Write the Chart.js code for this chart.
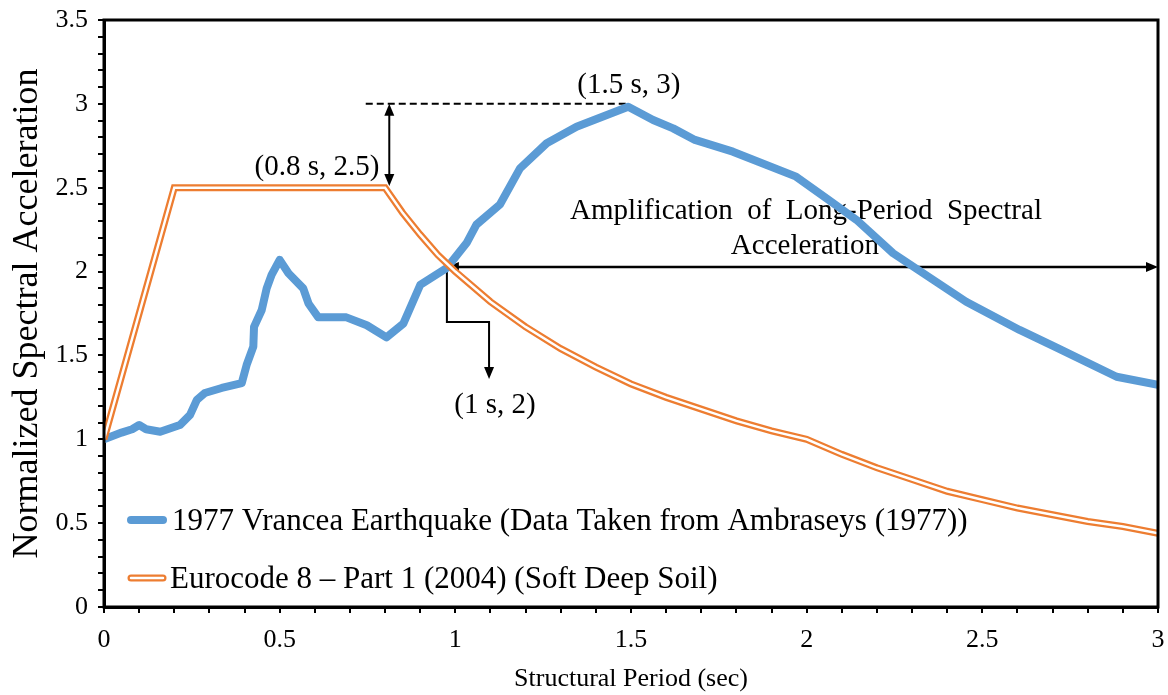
<!DOCTYPE html>
<html>
<head>
<meta charset="utf-8">
<script src="https://cdn.jsdelivr.net/npm/chart.js@4.4.1/dist/chart.umd.min.js"></script>
<style>
  html, body { margin: 0; padding: 0; background: #fff; }
</style>
</head>
<body>
<canvas id="spectrum" width="1168" height="695"></canvas>
<script>
const SERIF = '"Liberation Serif", "Times New Roman", serif';

const seriesNames = [
  '1977 Vrancea Earthquake (Data Taken from Ambraseys (1977))',
  'Eurocode 8 \u2013 Part 1 (2004) (Soft Deep Soil)'
];

const vranceaPeriod = [0, 0.05, 0.08, 0.1, 0.12, 0.16, 0.216, 0.245, 0.264, 0.287, 0.335, 0.392, 0.406, 0.425, 0.427,
  0.449, 0.463, 0.477, 0.5, 0.525, 0.567, 0.582, 0.61, 0.69, 0.748, 0.804, 0.852, 0.9, 0.975, 1.032, 1.06, 1.127,
  1.184, 1.26, 1.345, 1.492, 1.563, 1.62, 1.682, 1.79, 1.97, 2.056, 2.142, 2.246, 2.454, 2.606, 2.71, 2.882, 3.0];
const vranceaAccel = [1.0, 1.04, 1.06, 1.085, 1.06, 1.045, 1.085, 1.145, 1.234, 1.276, 1.306, 1.335, 1.443, 1.552, 1.67,
  1.771, 1.9, 1.98, 2.07, 1.99, 1.9, 1.81, 1.727, 1.727, 1.68, 1.608, 1.69, 1.92, 2.02, 2.17, 2.28, 2.4,
  2.615, 2.765, 2.864, 2.983, 2.904, 2.854, 2.785, 2.715, 2.566, 2.437, 2.308, 2.109, 1.82, 1.652, 1.548, 1.373, 1.324];

const ec8Period = [0, 0.2, 0.8, 0.85, 0.9, 0.95, 1.0, 1.1, 1.2, 1.3, 1.4, 1.5, 1.6, 1.7, 1.8, 1.9, 2.0,
  2.1, 2.2, 2.3, 2.4, 2.5, 2.6, 2.7, 2.8, 2.9, 3.0];
const ec8Accel = [1.0, 2.5, 2.5, 2.35, 2.22, 2.1, 2.0, 1.82, 1.67, 1.54, 1.43, 1.33, 1.25, 1.18, 1.11, 1.05, 1.0,
  0.91, 0.83, 0.76, 0.69, 0.64, 0.59, 0.55, 0.51, 0.48, 0.44];

// callouts, in data units
const labels = [
  { text: '(0.8 s, 2.5)', x: 0.606, y: 2.62 },
  { text: '(1.5 s, 3)', x: 1.494, y: 3.11 },
  { text: 'Amplification  of  Long-Period  Spectral', x: 1.998, y: 2.36 },
  { text: 'Acceleration', x: 1.995, y: 2.15 },
  { text: '(1 s, 2)', x: 1.113, y: 1.2 }
];
const peakDash = { x0: 0.745, x1: 1.49, y: 3 };
const vertArrow = { x: 0.812, y0: 3, y1: 2.51 };
const horizArrow = { y: 2.027, x0: 0.976, x1: 3 };
const bracket = { x0: 0.976, y0: 2.027, yBend: 1.7, x1: 1.096, yEnd: 1.36 };

function pts(xs, ys) {
  return xs.map((x, i) => ({ x: x, y: ys[i] }));
}

function halfLabel(v) {
  const r = Math.round(v * 10) / 10;
  return Math.abs(r * 2 - Math.round(r * 2)) < 1e-6 ? String(r) : '';
}

function arrowHead(ctx, x, y, angle) {
  ctx.save();
  ctx.translate(x, y);
  ctx.rotate(angle);
  ctx.beginPath();
  ctx.moveTo(0, 0);
  ctx.lineTo(-12, -5);
  ctx.lineTo(-12, 5);
  ctx.closePath();
  ctx.fill();
  ctx.restore();
}

const calloutPlugin = {
  id: 'callouts',
  beforeDatasetsDraw(chart) {
    const ctx = chart.ctx;
    const xs = chart.scales.x, ys = chart.scales.y;
    ctx.save();
    ctx.strokeStyle = '#000';
    ctx.fillStyle = '#000';

    // dashed line at the peak
    ctx.lineWidth = 2;
    ctx.setLineDash([7, 4]);
    ctx.beginPath();
    ctx.moveTo(xs.getPixelForValue(peakDash.x0), ys.getPixelForValue(peakDash.y));
    ctx.lineTo(xs.getPixelForValue(peakDash.x1), ys.getPixelForValue(peakDash.y));
    ctx.stroke();
    ctx.setLineDash([]);

    // vertical double arrow
    let ax = xs.getPixelForValue(vertArrow.x);
    let ay0 = ys.getPixelForValue(vertArrow.y0), ay1 = ys.getPixelForValue(vertArrow.y1);
    ctx.beginPath();
    ctx.moveTo(ax, ay0 + 8);
    ctx.lineTo(ax, ay1 - 8);
    ctx.stroke();
    arrowHead(ctx, ax, ay0, -Math.PI / 2);
    arrowHead(ctx, ax, ay1, Math.PI / 2);

    // horizontal double arrow
    ctx.lineWidth = 2.5;
    const hy = ys.getPixelForValue(horizArrow.y);
    const hx0 = xs.getPixelForValue(horizArrow.x0), hx1 = xs.getPixelForValue(horizArrow.x1);
    ctx.beginPath();
    ctx.moveTo(hx0 + 8, hy);
    ctx.lineTo(hx1 - 8, hy);
    ctx.stroke();
    arrowHead(ctx, hx0, hy, Math.PI);
    arrowHead(ctx, hx1, hy, 0);

    // bracket down to the (1 s, 2) label
    ctx.lineWidth = 2;
    const bx0 = xs.getPixelForValue(bracket.x0), bx1 = xs.getPixelForValue(bracket.x1);
    const bBend = ys.getPixelForValue(bracket.yBend), bEnd = ys.getPixelForValue(bracket.yEnd);
    ctx.beginPath();
    ctx.moveTo(bx0, ys.getPixelForValue(bracket.y0));
    ctx.lineTo(bx0, bBend);
    ctx.lineTo(bx1, bBend);
    ctx.lineTo(bx1, bEnd - 8);
    ctx.stroke();
    arrowHead(ctx, bx1, bEnd, Math.PI / 2);

    ctx.font = '29px ' + SERIF;
    ctx.textAlign = 'center';
    ctx.textBaseline = 'middle';
    labels.forEach(l => {
      ctx.fillText(l.text, xs.getPixelForValue(l.x), ys.getPixelForValue(l.y));
    });
    ctx.restore();
  },
  afterDraw(chart) {
    const ctx = chart.ctx;
    const a = chart.chartArea;
    ctx.save();
    ctx.strokeStyle = '#000';
    ctx.lineWidth = 3;
    ctx.strokeRect(a.left, a.top, a.right - a.left, a.bottom - a.top);

    // legend inside the plot, lower left
    const lx = a.left + 23, lw = 40;
    const rowY = [a.bottom - 87, a.bottom - 29];
    ctx.lineCap = 'round';
    ctx.strokeStyle = '#5B9BD5';
    ctx.lineWidth = 8;
    ctx.beginPath();
    ctx.moveTo(lx + 4, rowY[0]);
    ctx.lineTo(lx + lw - 4, rowY[0]);
    ctx.stroke();

    ctx.lineWidth = 7;
    ctx.strokeStyle = '#ED7D31';
    ctx.beginPath();
    ctx.moveTo(lx + 4, rowY[1]);
    ctx.lineTo(lx + lw - 4, rowY[1]);
    ctx.stroke();
    ctx.lineWidth = 2.5;
    ctx.strokeStyle = '#fff';
    ctx.beginPath();
    ctx.moveTo(lx + 4, rowY[1]);
    ctx.lineTo(lx + lw - 4, rowY[1]);
    ctx.stroke();

    ctx.fillStyle = '#000';
    ctx.font = '31px ' + SERIF;
    ctx.textAlign = 'left';
    ctx.textBaseline = 'middle';
    ctx.fillText(chart.data.datasets[0].label, lx + lw + 5, rowY[0] + 2);
    ctx.fillText(chart.data.datasets[1].label, lx + lw + 3, rowY[1] + 2);
    ctx.restore();
  }
};

const tickFont = { family: SERIF, size: 26 };

new Chart(document.getElementById('spectrum'), {
  type: 'line',
  data: {
    datasets: [
      {
        label: seriesNames[0],
        data: pts(vranceaPeriod, vranceaAccel),
        borderColor: '#5B9BD5',
        borderWidth: 8,
        borderJoinStyle: 'round',
        borderCapStyle: 'round',
        order: 2
      },
      {
        label: seriesNames[1],
        data: pts(ec8Period, ec8Accel),
        borderColor: '#ED7D31',
        borderWidth: 7,
        order: 1
      },
      {
        label: 'inner',
        data: pts(ec8Period, ec8Accel),
        borderColor: '#FFFFFF',
        borderWidth: 2.5,
        order: 0
      }
    ]
  },
  options: {
    responsive: false,
    animation: false,
    layout: { padding: { top: 20, right: 10, left: 0, bottom: 0 } },
    elements: { point: { radius: 0 }, line: { tension: 0 } },
    plugins: { legend: { display: false }, tooltip: { enabled: false } },
    scales: {
      x: {
        type: 'linear', min: 0, max: 3,
        ticks: { stepSize: 0.1, autoSkip: false, maxRotation: 0, padding: 12, color: '#000', font: tickFont, callback: halfLabel },
        grid: { drawOnChartArea: false, drawTicks: true, tickLength: 6, color: '#000', lineWidth: 2 },
        border: { display: true, color: '#000', width: 3 },
        title: { display: true, text: 'Structural Period (sec)', color: '#000', font: { family: SERIF, size: 26 }, padding: { top: 0, bottom: 0 } },
        afterFit: s => { s.height = 88; s.paddingLeft = 0; s.paddingRight = 0; }
      },
      y: {
        min: 0, max: 3.5,
        ticks: { stepSize: 0.1, autoSkip: false, padding: 10, color: '#000', font: tickFont, callback: halfLabel },
        grid: { drawOnChartArea: false, drawTicks: true, tickLength: 6, color: '#000', lineWidth: 2 },
        border: { display: true, color: '#000', width: 3 },
        title: { display: true, text: 'Normalized Spectral Acceleration', color: '#000', font: { family: SERIF, size: 36 }, padding: { top: 6, bottom: 0 } },
        afterFit: s => { s.width = 104; s.paddingTop = 0; s.paddingBottom = 0; }
      }
    }
  },
  plugins: [calloutPlugin]
});
</script>
</body>
</html>
